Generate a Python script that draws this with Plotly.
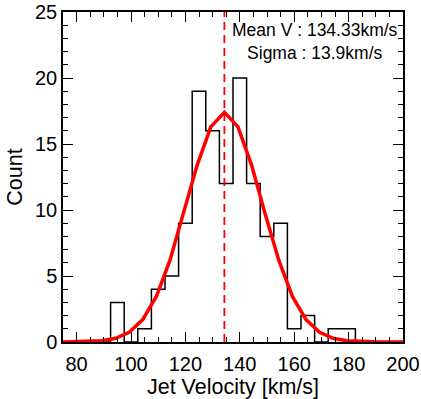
import plotly.graph_objects as go

# **** Data
bin_centers = [90, 95, 100, 105, 110, 115, 120, 125, 130, 135, 140, 145,
               150, 155, 160, 165, 170, 175, 180, 185]
counts = [0, 3, 0, 1, 4, 5, 9, 19, 16, 12, 20, 12, 8, 9, 1, 2, 0, 1, 1, 0]

fit_x = [75, 79.33, 84.33, 89.33, 94.33, 99.33, 104.33, 109.33, 114.33, 119.33,
         124.33, 129.33, 134.33, 139.33, 144.33, 149.33, 154.33, 159.33,
         164.33, 169.33, 174.33, 179.33, 184.33, 189.33, 194.33, 199.33, 200]
fit_y = [0.0, 0.01, 0.03, 0.09, 0.28, 0.73, 1.7, 3.45, 6.2, 9.7, 13.4, 16.3,
         17.4, 16.3, 13.4, 9.7, 6.2, 3.45, 1.7, 0.73, 0.28, 0.09, 0.03, 0.01,
         0.0, 0.0, 0.0]

x_ticks = [80, 100, 120, 140, 160, 180, 200]
y_ticks = [0, 5, 10, 15, 20, 25]

mean_v = 134.33
sigma = 13.9

font_name = "Liberation Sans"

fig = go.Figure()

# histogram outline
fig.add_trace(go.Scatter(x=bin_centers, y=counts, mode="lines",
                         line=dict(color="black", width=1.5, shape="hvh"),
                         showlegend=False))

# gaussian fit
fig.add_trace(go.Scatter(x=fit_x, y=fit_y, mode="lines",
                         line=dict(color="rgb(255,0,0)", width=3.5),
                         showlegend=False))

# mean line
fig.add_trace(go.Scatter(x=[mean_v, mean_v], y=[0, 25], mode="lines",
                         line=dict(color="rgb(255,0,0)", width=1.8, dash="8px,5px"),
                         showlegend=False))

fig.add_annotation(x=315, y=41, xref="paper", yref="paper",
                   text="Mean V : %.2fkm/s<br>Sigma : %.1fkm/s" % (mean_v, sigma),
                   showarrow=False, align="center", xanchor="center", yanchor="middle",
                   font=dict(family=font_name, size=17.5, color="black"))

axis_style = dict(showline=True, linecolor="black", linewidth=1.5, mirror="ticks",
                  ticks="inside", ticklen=10, tickwidth=1.2, tickcolor="black",
                  showgrid=False, zeroline=False, automargin=False,
                  ticklabeloverflow="allow",
                  tickfont=dict(family=font_name, size=20, color="black"),
                  title_font=dict(family=font_name, size=21.5, color="black"))

fig.update_xaxes(range=[75, 200], tickvals=x_ticks,
                 minor=dict(dtick=5, tick0=75, ticks="inside", ticklen=5,
                            tickcolor="black", tickwidth=1.2),
                 title_text="Jet Velocity [km/s]", title_standoff=2,
                 ticklabelstandoff=3, **axis_style)
fig.update_yaxes(range=[0, 25.001], tickvals=y_ticks,
                 minor=dict(dtick=1, tick0=0, ticks="inside", ticklen=5,
                            tickcolor="black", tickwidth=1.2),
                 title_text="Count", title_standoff=6,
                 ticklabelstandoff=0, **axis_style)

W, H = 421, 399
ml, mr, mt, mb = 63, 18, 12, 57
fig.update_layout(width=W, height=H, template="plotly_white",
                  plot_bgcolor="white", paper_bgcolor="white",
                  margin=dict(l=ml, r=mr, t=mt, b=mb))

# convert annotation pixel position to paper coords
ann = fig.layout.annotations[0]
ann.x = (ann.x - ml) / (W - ml - mr)
ann.y = 1 - (ann.y - mt) / (H - mt - mb)

fig.write_html("out.html", config={"displayModeBar": False},
               post_script="document.body.style.margin='0';")
